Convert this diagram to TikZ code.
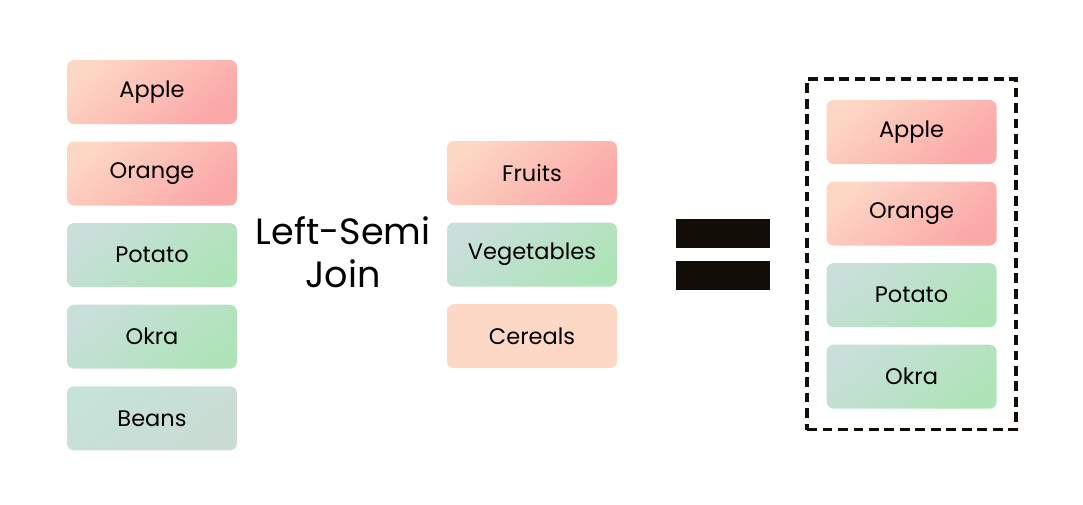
\documentclass[tikz,border=0pt]{standalone}
\usepackage{fontspec}
\setmainfont{Poppins}
\usepackage{xcolor}
\usetikzlibrary{positioning,fit}

\definecolor{fruitA}{HTML}{FDD6C4}
\definecolor{fruitB}{HTML}{FBA8A8}
\definecolor{vegA}{HTML}{C8DFDA}
\definecolor{vegB}{HTML}{AEE4B8}
\definecolor{beanA}{HTML}{C6E2D9}
\definecolor{beanB}{HTML}{CADCD4}
\definecolor{cerealC}{HTML}{FDD8C6}
\definecolor{barC}{HTML}{130D08}

\begin{document}
\begin{tikzpicture}[
  node distance=0.425cm,
  box/.style={rounded corners=5pt,align=center,minimum width=4.25cm,minimum height=1.6cm,
    font=\fontsize{16}{19}\selectfont},
  fruit/.style={box,left color=fruitA,middle color=fruitB!85!fruitA,right color=fruitB,shading angle=40},
  veg/.style={box,left color=vegA,middle color=vegB!70!vegA,right color=vegB,shading angle=40},
  bean/.style={box,left color=beanA,right color=beanB,shading angle=40},
  cereal/.style={box,fill=cerealC},
  bar/.style={fill=barC,minimum width=2.35cm,minimum height=0.725cm,inner sep=0pt}
]
\useasboundingbox (0,0) rectangle (27.075,-12.6);

% left table
\node[fruit] (L1) at (3.8,-2.3) {Apple};
\node[fruit, below=of L1] (L2) {Orange};
\node[veg, below=of L2] (L3) {Potato};
\node[veg, below=of L3] (L4) {Okra};
\node[bean, below=of L4] (L5) {Beans};

\node[align=center,font=\fontsize{26}{31}\selectfont] (J) at (8.575,-6.3) {Left-Semi\\Join};

% right table
\node[fruit] (M1) at (13.3,-4.325) {Fruits};
\node[veg, below=of M1] (M2) {Vegetables};
\node[cereal, below=of M2] (M3) {Cereals};

% equals sign
\node[bar] (E1) at (18.075,-5.84) {};
\node[bar] (E2) at (18.075,-6.89) {};

% result
\node[fruit] (R1) at (22.79,-3.3) {Apple};
\node[fruit, below=of R1] (R2) {Orange};
\node[veg, below=of R2] (R3) {Potato};
\node[veg, below=of R3] (R4) {Okra};
\node[draw=barC,line width=2.4pt,dash pattern=on 7pt off 4pt,inner xsep=0.48cm,inner ysep=0.52cm,fit=(R1)(R4)] (R) {};
\end{tikzpicture}
\end{document}
